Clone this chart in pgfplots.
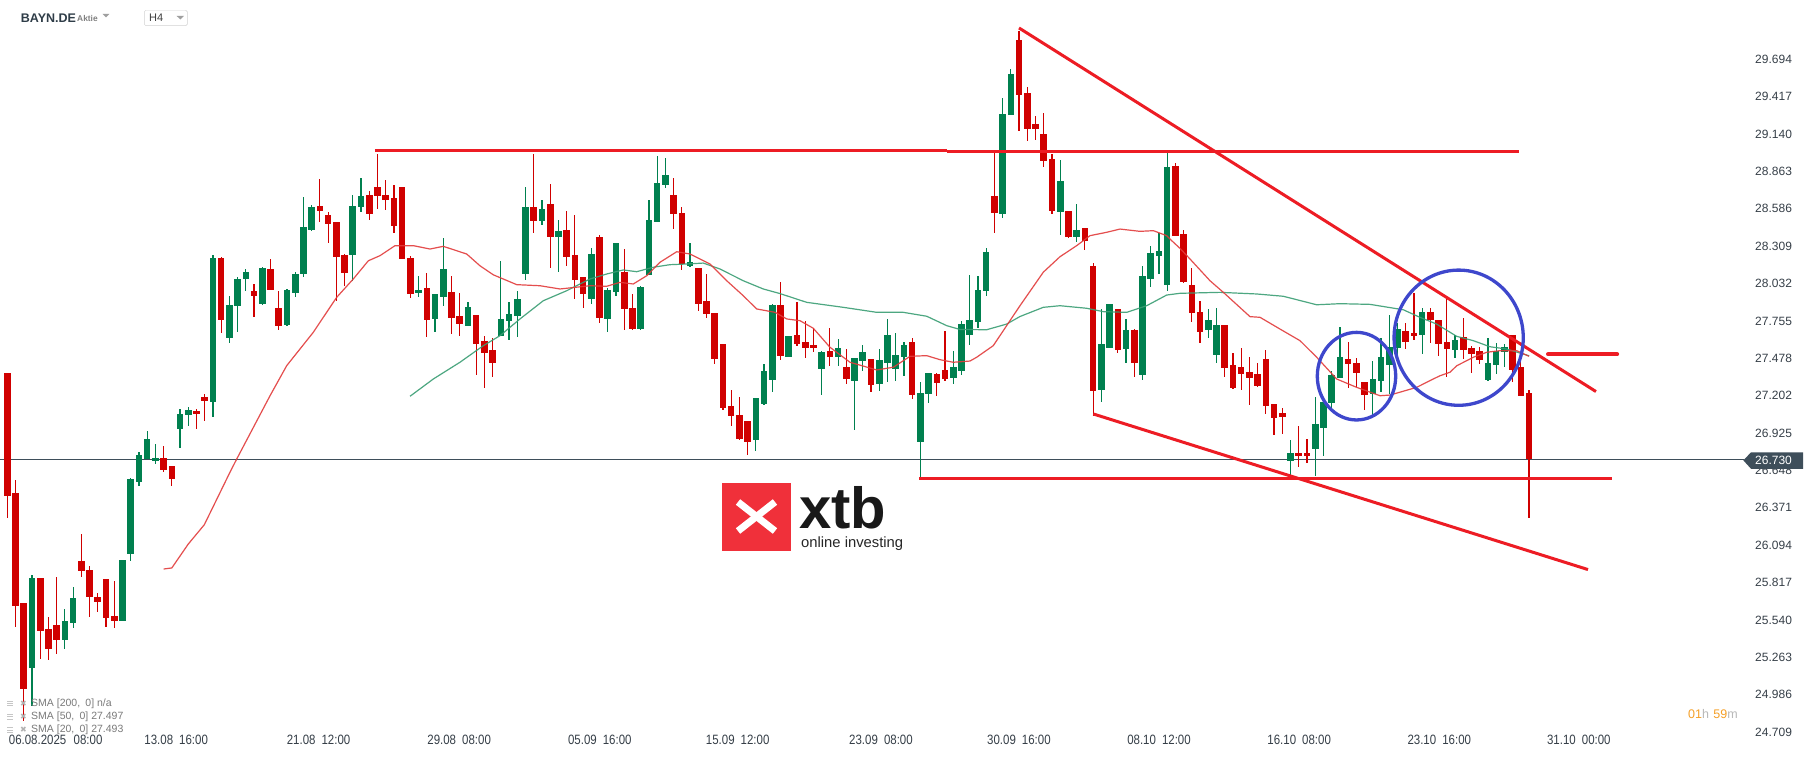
\documentclass[border=0pt]{standalone}
\usepackage{fontspec}
\setmainfont{Liberation Sans}
\newfontfamily\condfont[FakeStretch=0.85]{Liberation Sans}
\newfontfamily\dejavu{DejaVu Sans}
\usepackage{pgfplots}
\pgfplotsset{compat=1.18}
\usepackage{pgfplotstable}

\definecolor{cred}{HTML}{D00000}
\definecolor{cgreen}{HTML}{00804F}
\definecolor{tred}{HTML}{ED1C24}
\definecolor{smared}{HTML}{E23B3B}
\definecolor{smagreen}{HTML}{3A9E74}
\definecolor{pline}{HTML}{3E4E5A}
\definecolor{cblue}{HTML}{3E47CC}
\definecolor{labcol}{HTML}{363F48}
\definecolor{xtbred}{HTML}{F0303A}
\definecolor{orangec}{HTML}{F5A028}
\definecolor{legcol}{HTML}{7A7A7A}
\definecolor{hdrcol}{HTML}{2F3D48}

\pgfplotstableread{
i o h l c
0 27.369 27.369 26.295 26.460
1 26.480 26.577 25.485 25.645
2 25.665 25.665 24.793 25.028
3 25.186 25.873 24.904 25.850
4 25.850 25.850 25.250 25.460
5 25.473 25.564 25.243 25.324
6 25.502 25.856 25.287 25.391
7 25.391 25.621 25.324 25.532
8 25.517 25.782 25.482 25.702
9 25.976 26.177 25.858 25.902
10 25.910 25.937 25.564 25.712
11 25.710 25.739 25.601 25.675
12 25.843 25.843 25.490 25.556
13 25.569 25.828 25.482 25.534
14 25.534 25.984 25.534 25.984
15 26.031 26.591 25.979 26.584
16 26.564 26.782 26.534 26.760
17 26.732 26.940 26.732 26.880
18 26.720 26.843 26.697 26.740
19 26.740 26.829 26.638 26.653
20 26.680 26.680 26.534 26.586
21 26.957 27.103 26.816 27.066
22 27.060 27.118 26.979 27.095
23 27.088 27.103 26.957 27.068
24 27.192 27.216 27.016 27.162
25 27.157 28.244 27.046 28.222
26 28.222 28.229 27.668 27.764
27 27.631 27.940 27.594 27.873
28 27.868 28.081 27.675 28.066
29 28.066 28.140 27.979 28.118
30 27.977 28.029 27.787 27.942
31 27.881 28.155 27.876 28.150
32 28.140 28.214 27.987 27.987
33 27.851 27.977 27.690 27.720
34 27.727 27.992 27.720 27.984
35 27.962 28.118 27.935 28.103
36 28.105 28.674 28.083 28.451
37 28.431 28.614 28.424 28.599
38 28.607 28.807 28.491 28.570
39 28.540 28.563 28.335 28.476
40 28.488 28.488 27.905 28.231
41 28.244 28.251 28.016 28.113
42 28.244 28.688 28.053 28.607
43 28.602 28.814 28.563 28.681
44 28.688 28.718 28.505 28.550
45 28.748 28.992 28.585 28.683
46 28.688 28.800 28.580 28.654
47 28.666 28.762 28.409 28.461
48 28.748 28.748 28.216 28.216
49 28.222 28.236 27.927 27.957
50 27.964 28.088 27.935 27.984
51 27.999 28.110 27.638 27.764
52 27.772 27.955 27.675 27.955
53 27.935 28.370 27.868 28.140
54 27.970 28.088 27.661 27.779
55 27.792 27.962 27.646 27.735
56 27.720 27.896 27.720 27.858
57 27.799 27.799 27.357 27.587
58 27.607 27.644 27.261 27.520
59 27.540 27.631 27.342 27.446
60 27.646 28.199 27.646 27.770
61 27.757 27.896 27.616 27.807
62 27.794 27.977 27.638 27.918
63 28.105 28.748 28.061 28.599
64 28.599 28.992 28.409 28.498
65 28.498 28.651 28.468 28.585
66 28.622 28.770 28.150 28.379
67 28.379 28.503 28.120 28.422
68 28.429 28.570 28.164 28.231
69 28.244 28.540 27.920 28.061
70 28.081 28.081 27.853 27.957
71 27.920 28.296 27.883 28.251
72 28.377 28.390 27.742 27.779
73 27.772 27.999 27.675 27.984
74 27.972 28.333 27.942 28.333
75 28.120 28.288 27.690 27.846
76 27.851 27.955 27.690 27.698
77 27.698 28.014 27.690 28.007
78 28.098 28.651 28.098 28.503
79 28.491 28.977 28.491 28.777
80 28.765 28.962 28.742 28.837
81 28.688 28.814 28.439 28.550
82 28.555 28.599 28.135 28.179
83 28.164 28.333 28.157 28.192
84 28.147 28.147 27.831 27.883
85 27.903 28.103 27.779 27.809
86 27.814 27.814 27.438 27.475
87 27.584 27.584 27.098 27.112
88 27.125 27.246 26.979 27.053
89 27.060 27.194 26.873 26.880
90 27.016 27.016 26.764 26.860
91 26.875 27.186 26.794 27.186
92 27.140 27.438 27.134 27.386
93 27.320 27.883 27.231 27.876
94 27.876 28.044 27.468 27.498
95 27.490 27.644 27.490 27.644
96 27.651 27.896 27.572 27.587
97 27.599 27.755 27.483 27.557
98 27.577 27.703 27.527 27.557
99 27.401 27.532 27.209 27.525
100 27.532 27.703 27.424 27.490
101 27.490 27.621 27.424 27.555
102 27.414 27.547 27.290 27.327
103 27.312 27.481 26.949 27.481
104 27.461 27.577 27.386 27.525
105 27.473 27.473 27.231 27.283
106 27.290 27.547 27.238 27.466
107 27.446 27.770 27.305 27.651
108 27.401 27.666 27.312 27.503
109 27.490 27.599 27.349 27.577
110 27.599 27.629 27.179 27.209
111 26.860 27.303 26.591 27.221
112 27.216 27.369 27.149 27.369
113 27.362 27.369 27.201 27.298
114 27.392 27.681 27.312 27.327
115 27.335 27.532 27.290 27.414
116 27.386 27.755 27.357 27.733
117 27.653 28.096 27.579 27.762
118 27.750 28.088 27.705 27.984
119 27.979 28.296 27.942 28.266
120 28.681 29.005 28.409 28.557
121 28.550 29.407 28.520 29.289
122 29.283 29.622 29.283 29.585
123 29.837 29.904 29.165 29.432
124 29.444 29.489 29.091 29.180
125 29.214 29.274 29.098 29.180
126 29.140 29.296 28.898 28.943
127 28.955 28.994 28.550 28.572
128 28.565 28.950 28.394 28.792
129 28.572 28.572 28.372 28.379
130 28.379 28.624 28.342 28.431
131 28.442 28.442 28.283 28.350
132 28.162 28.182 27.053 27.238
133 27.246 27.844 27.157 27.584
134 27.557 27.881 27.557 27.881
135 27.844 27.844 27.520 27.542
136 27.550 27.770 27.446 27.688
137 27.688 27.695 27.342 27.446
138 27.357 28.162 27.320 28.088
139 28.068 28.310 28.009 28.259
140 28.239 28.407 28.105 28.273
141 28.024 29.000 27.979 28.896
142 28.903 28.925 28.387 28.387
143 28.399 28.429 28.039 28.046
144 28.022 28.147 27.750 27.816
145 27.821 27.903 27.594 27.675
146 27.690 27.844 27.631 27.762
147 27.505 27.851 27.446 27.725
148 27.727 27.727 27.342 27.409
149 27.429 27.518 27.253 27.261
150 27.414 27.555 27.246 27.364
151 27.377 27.488 27.134 27.335
152 27.362 27.444 27.268 27.275
153 27.473 27.540 27.068 27.127
154 27.142 27.142 26.912 27.038
155 27.073 27.112 26.920 27.046
156 26.720 26.875 26.608 26.777
157 26.777 26.979 26.675 26.757
158 26.777 26.883 26.700 26.757
159 26.809 27.194 26.608 26.992
160 26.964 27.157 26.757 27.157
161 27.149 27.384 27.112 27.355
162 27.335 27.710 27.335 27.488
163 27.473 27.599 27.261 27.438
164 27.444 27.481 27.268 27.372
165 27.303 27.303 27.098 27.209
166 27.216 27.458 27.060 27.325
167 27.312 27.629 27.231 27.488
168 27.431 27.799 27.216 27.562
169 27.557 27.740 27.498 27.695
170 27.681 27.740 27.550 27.601
171 27.666 27.962 27.616 27.646
172 27.653 27.851 27.512 27.821
173 27.821 27.851 27.594 27.762
174 27.762 27.762 27.498 27.587
175 27.599 27.918 27.342 27.550
176 27.542 27.651 27.483 27.614
177 27.636 27.777 27.475 27.542
178 27.555 27.570 27.372 27.512
179 27.532 27.562 27.438 27.468
180 27.320 27.629 27.312 27.444
181 27.431 27.592 27.364 27.532
182 27.527 27.584 27.416 27.562
183 27.651 27.651 27.305 27.394
184 27.414 27.458 27.201 27.201
185 27.221 27.243 26.293 26.730
}\candles

\pgfplotstableread{
i p
19 25.917
20 25.925
22.0 26.102
23.95 26.245
27.07 26.634
27.89 26.732
31.94 27.201
33.97 27.424
37.20 27.671
40.04 27.930
42.06 28.066
43.89 28.201
45.31 28.239
47.13 28.313
49.36 28.313
51.39 28.288
53.00 28.308
55.85 28.251
57.46 28.164
59.08 28.097
61.93 28.024
64.76 28.016
67.19 27.992
70.84 28.016
72.87 28.012
74.48 28.041
76.10 28.029
77.73 28.090
79.35 28.190
81.38 28.268
82.99 28.251
85.42 28.177
87.46 28.053
89.47 27.942
91.10 27.844
93.33 27.819
94.75 27.770
96.37 27.757
97.98 27.701
100.01 27.560
102.44 27.449
105.69 27.392
107.71 27.412
109.74 27.493
111.77 27.498
113.39 27.468
115.00 27.449
117.03 27.458
117.84 27.486
119.86 27.572
121.89 27.757
123.11 27.868
125.94 28.116
127.97 28.231
130.00 28.313
131.62 28.387
133.65 28.412
135.27 28.436
137.70 28.419
139.32 28.424
140.94 28.387
141.34 28.362
142.56 28.293
143.78 28.214
146.21 28.053
147.83 27.967
151.07 27.787
152.29 27.782
154.72 27.695
157.15 27.609
159.18 27.486
161.61 27.325
164.04 27.263
166.88 27.201
168.09 27.206
171.33 27.263
173.35 27.325
174.17 27.349
175.38 27.375
176.20 27.423
178.22 27.486
179.84 27.523
181.46 27.535
183.49 27.535
185 27.493
}\smatwenty

\pgfplotstableread{
i p
48.96 27.197
51.79 27.325
55.03 27.449
57.87 27.572
59.90 27.646
62.33 27.770
65.16 27.905
68.00 27.979
70.84 28.066
72.87 28.103
74.88 28.133
76.51 28.120
78.53 28.153
80.56 28.172
82.59 28.177
84.61 28.184
86.64 28.140
89.47 28.053
91.90 27.992
93.93 27.958
97.18 27.893
101.63 27.856
105.69 27.819
108.92 27.819
111.77 27.790
114.21 27.720
115.82 27.692
119.06 27.690
121.49 27.732
123.11 27.788
125.94 27.856
127.97 27.868
131.22 27.849
133.24 27.824
136.08 27.819
138.51 27.868
140.94 27.947
142.56 27.960
147.42 27.967
151.88 27.955
155.12 27.938
159.18 27.875
162.01 27.883
165.66 27.878
169.71 27.838
171.73 27.782
173.76 27.732
176.20 27.641
178.22 27.609
180.24 27.564
182.27 27.547
185 27.497
}\smafifty

\begin{document}
\begin{tikzpicture}[x=1pt,y=1pt]
\useasboundingbox (0,0) rectangle (1815,761);
\fill[white] (0,0) rectangle (1815,761);
\begin{axis}[
  at={(0,20)}, anchor=south west,
  scale only axis, width=1745pt, height=735pt,
  xmin=-0.887, xmax=211.25, ymin=24.6945, ymax=30.1406,
  axis line style={draw=none}, tick style={draw=none},
  ytick={29.694,29.417,29.140,28.863,28.586,28.309,28.032,27.755,27.478,27.202,26.925,26.648,26.371,26.094,25.817,25.540,25.263,24.986,24.709},
  yticklabels={29.694,29.417,29.140,28.863,28.586,28.309,28.032,27.755,27.478,27.202,26.925,26.648,26.371,26.094,25.817,25.540,25.263,24.986,24.709},
  yticklabel pos=right,
  yticklabel style={font=\fontsize{12}{14}\selectfont, text=labcol, anchor=west, inner sep=0pt, xshift=10pt},
  xtick={5.88,20.53,37.84,54.93,72.03,88.79,106.21,122.98,140.01,157.05,174.08,191.05},
  xticklabels={06.08.2025\hspace{0.55em}08:00,13.08\hspace{0.45em}16:00,21.08\hspace{0.45em}12:00,29.08\hspace{0.45em}08:00,05.09\hspace{0.45em}16:00,15.09\hspace{0.45em}12:00,23.09\hspace{0.45em}08:00,30.09\hspace{0.45em}16:00,08.10\hspace{0.45em}12:00,16.10\hspace{0.45em}08:00,23.10\hspace{0.45em}16:00,31.10\hspace{0.45em}00:00},
  xticklabel style={font=\condfont\fontsize{13.5}{15}\selectfont, text=labcol, anchor=north, inner sep=0pt, yshift=-1pt},
  clip=false,
]
% last price line
\draw[pline, line width=1pt] (axis cs:-0.887,26.730) -- (axis cs:211.1,26.730);

% wicks
\addplot[draw=none, mark=none, forget plot,
  restrict expr to domain={\thisrow{c}-\thisrow{o}}{-100:0},
  error bars/.cd, y dir=both, y explicit, error mark=none,
  error bar style={line width=1.2pt, draw=cred}]
  table[x=i, y expr={(\thisrow{h}+\thisrow{l})/2}, y error expr={(\thisrow{h}-\thisrow{l})/2}] {\candles};
\addplot[draw=none, mark=none, forget plot,
  restrict expr to domain={\thisrow{c}-\thisrow{o}}{0:100},
  error bars/.cd, y dir=both, y explicit, error mark=none,
  error bar style={line width=1.2pt, draw=cgreen}]
  table[x=i, y expr={(\thisrow{h}+\thisrow{l})/2}, y error expr={(\thisrow{h}-\thisrow{l})/2}] {\candles};
% bodies
\addplot[draw=none, mark=none, forget plot,
  restrict expr to domain={\thisrow{c}-\thisrow{o}}{-100:0},
  error bars/.cd, y dir=both, y explicit, error mark=none,
  error bar style={line width=6.6pt, draw=cred}]
  table[x=i, y expr={(\thisrow{o}+\thisrow{c})/2}, y error expr={max(abs(\thisrow{c}-\thisrow{o})/2,0.004)}] {\candles};
\addplot[draw=none, mark=none, forget plot,
  restrict expr to domain={\thisrow{c}-\thisrow{o}}{0:100},
  error bars/.cd, y dir=both, y explicit, error mark=none,
  error bar style={line width=6.6pt, draw=cgreen}]
  table[x=i, y expr={(\thisrow{o}+\thisrow{c})/2}, y error expr={max(abs(\thisrow{c}-\thisrow{o})/2,0.004)}] {\candles};

% moving averages
\addplot[smagreen, line width=1.2pt, mark=none, opacity=0.9, line join=round] table[x=i, y=p] {\smafifty};
\addplot[smared, line width=1.2pt, mark=none, opacity=0.9, line join=round] table[x=i, y=p] {\smatwenty};

% drawn annotations
\draw[tred, line width=3pt] (axis cs:44.70,29.0195) -- (axis cs:114.24,29.0195);
\draw[tred, line width=3pt] (axis cs:114.24,29.011) -- (axis cs:183.78,29.011);
\draw[tred, line width=3pt] (axis cs:122.99,29.926) -- (axis cs:193.13,27.232);
\draw[tred, line width=3pt] (axis cs:132.02,27.066) -- (axis cs:192.16,25.913);
\draw[tred, line width=3pt] (axis cs:110.89,26.590) -- (axis cs:195.04,26.590);
\draw[tred, line width=4pt, line cap=round] (axis cs:187.3,27.508) -- (axis cs:195.7,27.508);
\draw[cblue, line width=3.3pt] (axis cs:164.02,27.346) ellipse [x radius=39.2pt, y radius=43.8pt];
\draw[cblue, line width=3.3pt] (axis cs:176.44,27.631) ellipse [x radius=64.6pt, y radius=67.6pt];
\end{axis}

% price tag
\fill[pline] (1743.3,300.7) -- (1751,308.6) -- (1803,308.6) -- (1803,292.2) -- (1751,292.2) -- cycle;
\node[anchor=west, inner sep=0pt, text=white, font=\fontsize{12}{14}\selectfont] at (1755,300.5) {26.730};

% logo
\fill[xtbred] (722.3,210) rectangle (790.6,278.3);
\draw[white, line width=7pt] (738,230) -- (775,259);
\draw[white, line width=7pt] (738,259) -- (775,230);
\node[anchor=base west, inner sep=0pt, text=black!90, font=\bfseries\fontsize{58}{60}\selectfont] at (799,233) {xtb};
\node[anchor=base west, inner sep=0pt, text=black!85, font=\fontsize{14.8}{16}\selectfont] at (801,213.5) {online investing};

% header
\node[anchor=west, inner sep=0pt, text=hdrcol, font=\bfseries\fontsize{12.5}{14}\selectfont] at (20.7,743) {BAYN.DE};
\node[anchor=west, inner sep=0pt, text=gray, font=\bfseries\fontsize{8.4}{10}\selectfont] at (77,742.5) {Aktie};
\fill[gray!75] (102.7,747) -- (109.3,747) -- (106,743.5) -- cycle;
\draw[gray!35, fill=white, rounded corners=1.5pt] (144.3,735.3) rectangle (187.3,750.7);
\node[anchor=west, inner sep=0pt, text=black!75, font=\fontsize{11}{13}\selectfont] at (149,743) {H4};
\fill[gray!75] (176.7,745) -- (184,745) -- (180.35,741.5) -- cycle;

% indicator legend
\foreach \yy/\txt in {57.7/{SMA [200,\hspace{0.5em}0] n/a}, 44.3/{SMA [50,\hspace{0.5em}0] 27.497}, 31/{SMA [20,\hspace{0.5em}0] 27.493}}{
  \fill[gray!45] (6.7,\yy+1.8) rectangle (13.3,\yy+2.8);
  \fill[gray!45] (6.7,\yy-0.5) rectangle (13.3,\yy+0.5);
  \fill[gray!45] (6.7,\yy-2.8) rectangle (13.3,\yy-1.8);
  \node[anchor=center, inner sep=0pt, text=gray!60, font=\dejavu\fontsize{8}{9}\selectfont] at (23.4,\yy) {✖};
  \node[anchor=west, inner sep=0pt, text=legcol, font=\fontsize{10.5}{12}\selectfont] at (31,\yy) {\txt};
}

% timer
\node[anchor=west, inner sep=0pt, font=\fontsize{12.5}{14}\selectfont] at (1688,47) {\textcolor{orangec}{01}\textcolor{gray!55}{h}\hspace{0.35em}\textcolor{orangec}{59}\textcolor{gray!55}{m}};
\end{tikzpicture}
\end{document}
